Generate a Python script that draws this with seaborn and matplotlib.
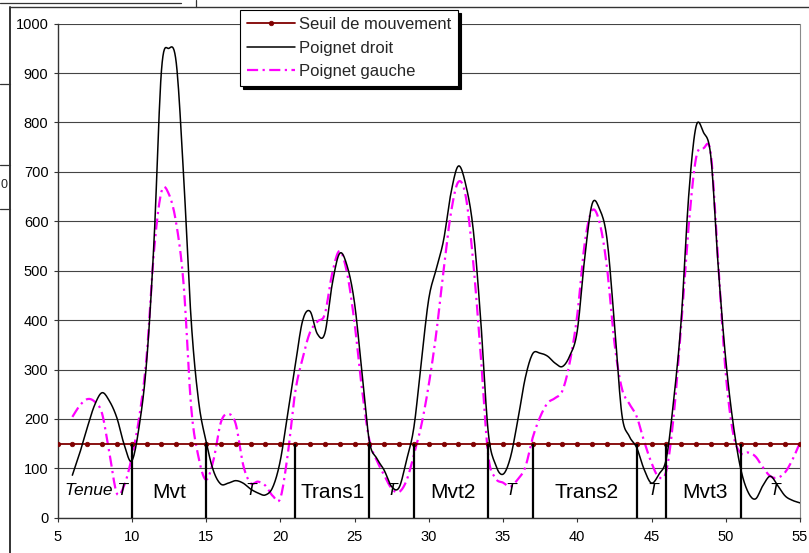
import numpy as np
import pandas as pd
import matplotlib
matplotlib.use("Agg")
import matplotlib.pyplot as plt
from matplotlib.lines import Line2D
import seaborn as sns

# ---- data -------------------------------------------------------------
# samples every half unit along the time axis
t = np.arange(6.0, 55.5, 0.5)

poignet_droit = [
    86, 131, 182, 228, 253, 236, 202, 147, 115, 185,
    315, 560, 905, 950, 920, 688, 400, 236, 155, 95,
    68, 70, 75, 70, 58, 50, 46, 62, 115, 210,
    306, 398, 418, 372, 373, 473, 535, 510, 435, 295,
    155, 120, 96, 63, 61, 116, 183, 316, 443, 503,
    562, 658, 712, 673, 582, 400, 175, 107, 88, 122,
    198, 283, 332, 333, 327, 313, 306, 328, 378, 525,
    635, 625, 565, 395, 210, 165, 142, 98, 70, 88,
    120, 240, 400, 650, 792, 780, 730, 505, 320, 190,
    100, 52, 38, 65, 84, 65, 44, 35, 30,
]

poignet_gauche = [
    204, 227, 240, 235, 211, 130, 49, 66, 122, 203,
    326, 540, 660, 655, 595, 470, 224, 122, 77, 116,
    193, 210, 190, 107, 70, 73, 65, 44, 39, 127,
    253, 322, 375, 397, 412, 495, 540, 495, 395, 261,
    157, 116, 86, 59, 52, 75, 127, 187, 269, 372,
    501, 618, 680, 649, 516, 330, 127, 80, 71, 63,
    78, 102, 162, 204, 232, 242, 257, 315, 410, 555,
    622, 598, 507, 355, 262, 231, 205, 155, 111, 82,
    95, 208, 390, 590, 728, 748, 735, 510, 292, 170,
    131, 132, 124, 102, 84, 81, 92, 118, 152,
]

seuil_x = np.arange(5, 56)
seuil_valeur = 150

# phase boundaries and phase names
bornes = [10, 15, 21, 26, 29, 34, 37, 44, 46, 51]
phases = ["Mvt", "Trans1", "Mvt2", "Trans2", "Mvt3"]
phases_x = [12.5, 23.5, 31.6, 40.6, 48.6]
repos = ["Tenue T", "T", "T", "T", "T", "T"]
repos_x = [7.6, 18.0, 27.5, 35.5, 45.1, 53.3]


def smooth(x, y, n=10):
    """Catmull-Rom smoothed polyline through the samples (smoothed-line style)."""
    p = np.column_stack([np.asarray(x, float), np.asarray(y, float)])
    p = np.vstack([2 * p[0] - p[1], p, 2 * p[-1] - p[-2]])
    s = np.linspace(0, 1, n, endpoint=False)[:, None]
    out = []
    for i in range(1, len(p) - 2):
        p0, p1, p2, p3 = p[i - 1], p[i], p[i + 1], p[i + 2]
        seg = 0.5 * ((2 * p1) + (-p0 + p2) * s
                     + (2 * p0 - 5 * p1 + 4 * p2 - p3) * s ** 2
                     + (-p0 + 3 * p1 - 3 * p2 + p3) * s ** 3)
        out.append(seg)
    out.append(p[-2][None, :])
    out = np.vstack(out)
    return out[:, 0], out[:, 1]


# ---- figure -----------------------------------------------------------
sns.set_theme(style="white")
plt.rcParams["font.family"] = ["Liberation Sans", "DejaVu Sans"]

W, H = 809, 553
fig = plt.figure(figsize=(W / 100, H / 100), dpi=100, facecolor="white")
ax = fig.add_axes([57.5 / W, 1 - 517.7 / H, (800 - 57.5) / W, (517.7 - 23.7) / H])
ax.set_facecolor("white")

df_seuil = pd.DataFrame({"t": seuil_x, "v": np.full(len(seuil_x), seuil_valeur)})
sns.lineplot(data=df_seuil, x="t", y="v", ax=ax, color="#800000", lw=1.3,
             marker="o", markersize=3.3, markeredgecolor="#800000",
             markeredgewidth=0.5, label="Seuil de mouvement", zorder=4)

xd, yd = smooth(t, poignet_droit)
sns.lineplot(x=xd, y=yd, ax=ax, sort=False, estimator=None, color="black",
             lw=1.1, label="Poignet droit", zorder=5)

xg, yg = smooth(t, poignet_gauche)
sns.lineplot(x=xg, y=yg, ax=ax, sort=False, estimator=None, color="#FF00FF",
             lw=1.6, label="Poignet gauche", zorder=3)
ax.lines[-1].set_linestyle((0, (5, 2, 1, 2)))

# phase boundaries
ax.vlines(bornes, 0, seuil_valeur, colors="black", lw=1.6, zorder=6)

for s, x in zip(phases, phases_x):
    ax.text(x, 39, s, ha="center", va="baseline", fontsize=15, color="black", zorder=7)
for s, x in zip(repos, repos_x):
    ax.text(x, 45, s, ha="center", va="baseline", fontsize=12.5,
            style="italic", color="black", zorder=7)

# axes
ax.set_xlim(5, 55)
ax.set_ylim(0, 1000)
ax.set_xticks(np.arange(5, 56, 5))
ax.set_yticks(np.arange(0, 1001, 100))
ax.set_xlabel("")
ax.set_ylabel("")
ax.yaxis.grid(True, color="#444444", lw=0.8, zorder=0)
ax.xaxis.grid(False)
ax.set_axisbelow(True)
ax.tick_params(axis="both", direction="out", length=3, width=0.8, color="#333333",
               labelsize=10.5, labelcolor="black")
ax.tick_params(axis="y", pad=3.5)
ax.tick_params(axis="x", pad=5.5)
ax.tick_params(left=True, bottom=True)
for side in ("left", "bottom"):
    ax.spines[side].set_color("#333333")
    ax.spines[side].set_linewidth(1.0)
ax.spines["right"].set_color("#8a8a8a")
ax.spines["right"].set_linewidth(0.8)
ax.spines["top"].set_visible(False)

handles, labels = ax.get_legend_handles_labels()
leg = ax.legend(handles, labels, loc="upper left",
                bbox_to_anchor=(240 / W, 1 - 10 / H), bbox_transform=fig.transFigure,
                frameon=True, fancybox=False, framealpha=1,
                shadow={"color": "black", "alpha": 1},
                edgecolor="black", fontsize=12, handlelength=2.9,
                handletextpad=0.2, borderpad=0.42, labelspacing=0.52,
                borderaxespad=0)
leg.get_frame().set_linewidth(0.8)
leg.set_zorder(10)


def fig_line(x0, y0, x1, y1, lw=1.0, color="#333333"):
    fig.add_artist(Line2D([x0 / W, x1 / W], [1 - y0 / H, 1 - y1 / H],
                          transform=fig.transFigure, lw=lw, color=color))


# chart frame and neighbouring page elements
fig_line(10, 6.7, W, 6.7, lw=1.0)
fig_line(10, 6.7, 10, H, lw=1.4)
fig_line(0, 2.7, 181, 2.7, lw=0.9)
fig_line(196, 0, 196, 6.7, lw=0.9)
fig_line(0, 84, 10, 84, lw=0.9)
fig_line(0, 165, 10, 165, lw=0.9)
fig_line(0, 209, 10, 209, lw=0.9)
fig.text(0.5 / W, 1 - 185 / H, "0", ha="left", va="center", fontsize=9)

fig.savefig("out.png", dpi=100, facecolor="white")
